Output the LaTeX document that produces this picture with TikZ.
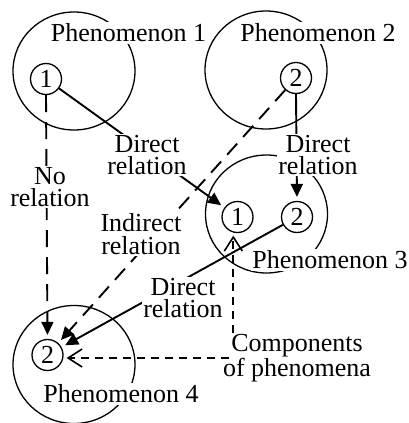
\documentclass[tikz,border=0pt]{standalone}
\usepackage{fontspec}
\setmainfont{Liberation Serif}
\usetikzlibrary{arrows.meta,shapes.geometric}
\begin{document}
\begin{tikzpicture}[x=1pt,y=-1pt,
  every node/.style={font=\fontsize{26}{22.5}\selectfont},
  big/.style={draw, ellipse, line width=1.3pt, minimum width=122pt, minimum height=118pt, inner sep=0pt},
  small/.style={draw, circle, line width=1.3pt, minimum size=31pt, inner sep=0pt},
  lbl/.style={fill=white, align=center, inner sep=1.5pt},
  rel/.style={line width=1.9pt, -{Triangle[length=13pt,width=12pt]}, shorten >=4pt},
  relind/.style={rel, dash pattern=on 15pt off 9pt},
  relno/.style={rel, dash pattern=on 17pt off 10pt},
  comparrow/.style={line width=1.9pt, dash pattern=on 8pt off 6pt, -{Straight Barb[length=14pt,width=18pt,line width=1.6pt]}, shorten >=3pt}
]
\useasboundingbox (0,0) rectangle (409,423);
% big circles
\node[big] (P1) at (74,71) {};
\node[big] (P2) at (266,70) {};
\node[big] (P3) at (266.5,214) {};
\node[big] (P4) at (74,364.5) {};
% components
\node[small] (s1) at (46,79) {1};
\node[small] (s2) at (296,78) {2};
\node[small] (s31) at (237.5,217) {1};
\node[small] (s32) at (297,217) {2};
\node[small] (s4) at (47.5,355) {2};
% connectors
\draw[rel] (s1) -- (s31);
\draw[relno] (s1.south) -- (s4.north);
\draw[rel] (s2.south) -- (s32.north);
\draw[relind] (s2) -- (s4);
\draw[rel] (s32) -- (s4);
% labels
\node[lbl] (t1) at (128.5,33) {Phenomenon 1};
\node[lbl] (t2) at (318,33) {Phenomenon 2};
\node[lbl] (t3) at (330,260) {Phenomenon 3};
\node[lbl] (t4) at (121,394) {Phenomenon 4};
\node[lbl] (dr1) at (147,155) {Direct\\relation};
\node[lbl] (dr2) at (318,155) {Direct\\relation};
\node[lbl] (dr3) at (183,298) {Direct\\relation};
\node[lbl] (nr) at (50,187) {No\\relation};
\node[lbl] (ir) at (141,234) {Indirect\\relation};
\node[lbl] (comp) at (297,358) {Components\\of phenomena};
\draw[comparrow] (comp.north -| s31.255) -- (s31.255);
\draw[comparrow, shorten <=-8pt] (comp.west) -- (comp.west -| s4.east);
\end{tikzpicture}
\end{document}
